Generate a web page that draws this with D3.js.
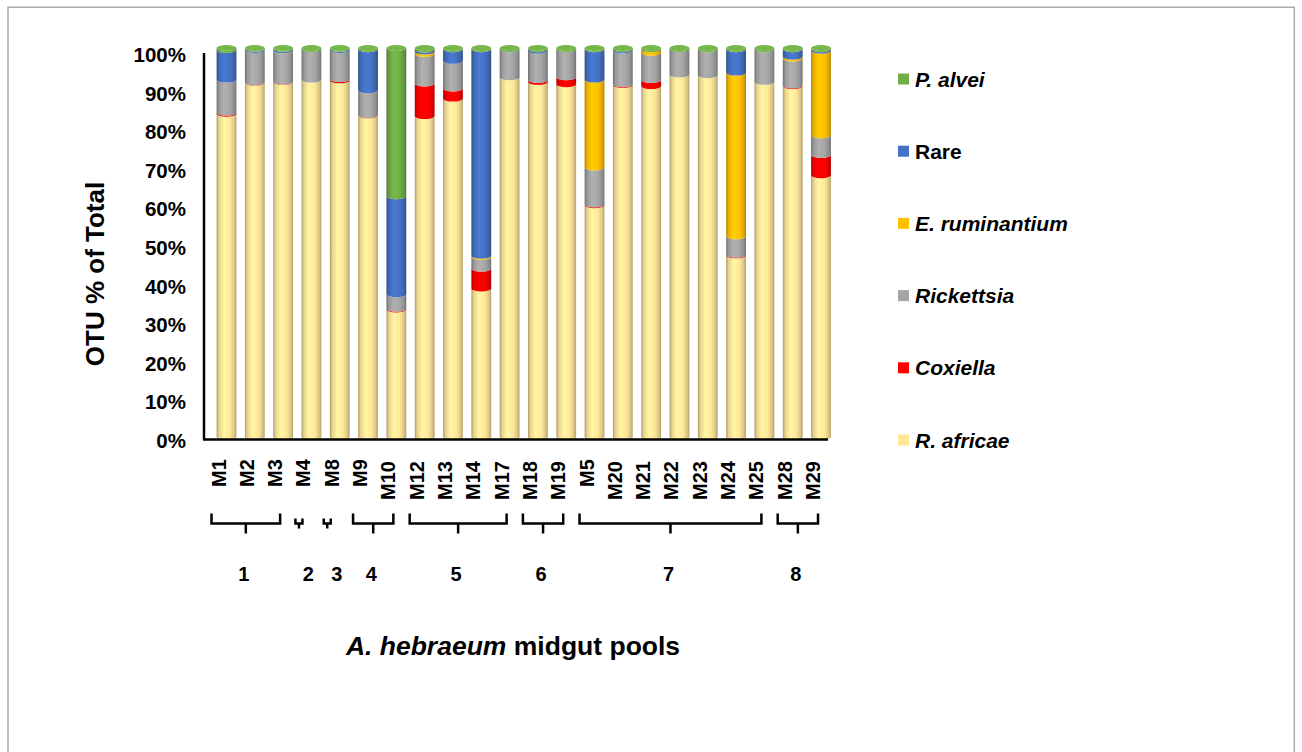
<!DOCTYPE html>
<html>
<head>
<meta charset="utf-8">
<script src="https://cdn.jsdelivr.net/npm/d3@7"></script>
<style>
  body { margin: 0; background: #fff; }
  svg { display: block; font-family: "Liberation Sans", Arial, sans-serif; }
</style>
</head>
<body>
<script>
// midgut pools, left to right
var categories = ["M1","M2","M3","M4","M8","M9","M10","M12","M13","M14","M17","M18","M19","M5","M20","M21","M22","M23","M24","M25","M28","M29"];

// OTU % of total, per series
var rAfricae     = [83.1, 91.1, 91.3, 91.9, 91.7, 82.7, 32.8, 82.5, 87.0, 38.2, 92.5, 91.3, 90.7, 59.6, 90.5, 90.2, 93.2, 93.0, 46.7, 91.3, 90.2, 67.3];
var coxiella     = [0.3, 0.1, 0.1, 0, 0.3, 0.1, 0.2, 8.4, 2.6, 5.1, 0, 0.5, 1.8, 0.2, 0.2, 1.6, 0, 0, 0.2, 0, 0.2, 5.2];
var rickettsia   = [8.5, 8.3, 7.9, 7.8, 7.5, 6.4, 3.7, 7.6, 7.1, 3.0, 7.2, 7.5, 7.2, 9.5, 8.7, 7.0, 6.5, 6.7, 4.7, 8.4, 6.9, 5.1];
var eRuminantium = [0, 0, 0.1, 0, 0, 0, 0, 0.6, 0, 0.3, 0, 0, 0, 22.6, 0, 0.9, 0, 0, 42.1, 0, 0.5, 21.7];
var rare         = [7.6, 0.3, 0.4, 0, 0.3, 10.5, 25.2, 0.5, 3.0, 53.1, 0, 0.4, 0, 7.8, 0.3, 0, 0, 0, 6.0, 0, 1.9, 0.4];
var pAlvei       = [0.5, 0.2, 0.2, 0.3, 0.2, 0.3, 38.1, 0.4, 0.3, 0.3, 0.3, 0.3, 0.3, 0.3, 0.3, 0.3, 0.3, 0.3, 0.3, 0.3, 0.3, 0.3];

// series, bottom to top of stack
var seriesKeys   = ["R. africae", "Coxiella", "Rickettsia", "E. ruminantium", "Rare", "P. alvei"];
var seriesValues = [rAfricae, coxiella, rickettsia, eRuminantium, rare, pAlvei];
var seriesColors = ["#FFE699", "#FF0000", "#A5A5A5", "#FFC000", "#4472C4", "#70AD47"];
var seriesItalic = [true, true, true, true, false, true];

var yTicks = [0, 10, 20, 30, 40, 50, 60, 70, 80, 90, 100];

// pool groups under the axis
var groupNames = ["1", "2", "3", "4", "5", "6", "7", "8"];
var groupFirst = ["M1", "M4", "M8", "M9", "M12", "M18", "M5", "M28"];
var groupLast  = ["M3", "M4", "M8", "M10", "M17", "M19", "M25", "M29"];

var W = 1302, H = 752;

var table = categories.map(function(c, i){
	var row = {pool: c};
	seriesKeys.forEach(function(k, j){ row[k] = seriesValues[j][i]; });
	return row;
});
var stacked = d3.stack().keys(seriesKeys)(table);

var svg = d3.select("body").append("svg")
	.attr("width", W)
	.attr("height", H);

svg.append("rect")//frame
	.attr("x", 8).attr("y", 7.25)
	.attr("width", 1286.3).attr("height", 800)
	.attr("fill", "none")
	.attr("stroke", "#ABABAB")
	.attr("stroke-width", 1.5);

var x = d3.scaleBand().domain(categories)
	.range([212.35, 835.17])
	.paddingInner(0.3).paddingOuter(0.15);
var y = d3.scaleLinear().domain([0, 100]).range([437, 48]);      // bars
var yLab = d3.scaleLinear().domain([0, 100]).range([441, 55]);   // tick labels sit a bit lower
var bw = x.bandwidth(), rx = bw / 2, ry = 3;

// cylinder shading
var defs = svg.append("defs");
seriesColors.forEach(function(c, j){
	var g = defs.append("linearGradient").attr("id", "cyl" + j)
		.attr("x1", 0).attr("x2", 1).attr("y1", 0).attr("y2", 0);
	var base = d3.color(c);
	[[0, base.darker(1.1)], [0.12, base.darker(0.25)], [0.38, base.brighter(0.2)],
	 [0.68, base], [0.88, base.darker(0.4)], [1, base.darker(1.0)]].forEach(function(s){
		g.append("stop").attr("offset", s[0]).attr("stop-color", s[1].formatHex());
	});
});

function segPath(x0, yt, yb){
	var x1 = x0 + bw;
	return "M" + x0 + "," + yt +
		"A" + rx + "," + ry + " 0 0 0 " + x1 + "," + yt +
		"L" + x1 + "," + yb +
		"A" + rx + "," + ry + " 0 0 1 " + x0 + "," + yb + "Z";
}

stacked.forEach(function(layer, j){
	svg.append("g").attr("class", "series")
		.selectAll("path")
		.data(layer.filter(function(d){ return d[1] - d[0] > 0; }))
		.join("path")
		.attr("d", function(d){ return segPath(x(d.data.pool), y(d[1]), y(d[0])); })
		.attr("fill", "url(#cyl" + j + ")");
});

// top caps, coloured by the topmost non-empty series
svg.append("g").selectAll("ellipse")
	.data(table)
	.join("ellipse")
	.attr("cx", function(d){ return x(d.pool) + rx; })
	.attr("cy", function(d){ return y(d3.sum(seriesKeys, function(k){ return d[k]; })); })
	.attr("rx", rx).attr("ry", ry)
	.attr("fill", function(d){
		var j = seriesKeys.length - 1;
		while (j > 0 && !(d[seriesKeys[j]] > 0)) j--;
		return d3.color(seriesColors[j]).brighter(0.15).formatHex();
	});

// axes
var yAxis = svg.append("g")
	.attr("transform", "translate(204,0)")
	.call(d3.axisLeft(yLab).tickValues(yTicks).tickSize(0).tickPadding(18)
		.tickFormat(function(d){ return d + "%"; }));
yAxis.select(".domain").remove();
yAxis.selectAll("text")
	.attr("font-size", 20.5).attr("font-weight", "bold")
	.attr("font-family", "Liberation Sans, Arial, sans-serif")
	.attr("fill", "#000");

svg.append("line")//y axis line
	.attr("x1", 204).attr("x2", 204)
	.attr("y1", yLab(100) - 2).attr("y2", y(0) + 2.5)
	.attr("stroke", "#000").attr("stroke-width", 2.5);
svg.append("line")//x axis line
	.attr("x1", 203).attr("x2", 828)
	.attr("y1", y(0) + 2.5).attr("y2", y(0) + 2.5)
	.attr("stroke", "#000").attr("stroke-width", 2.5);

// pool labels, rotated
svg.append("g").selectAll("text")
	.data(categories)
	.join("text")
	.attr("transform", function(d){
		var yb = d.length > 2 ? 500 : 487;
		return "translate(" + (x(d) + rx - 8) + "," + yb + ") rotate(-90)";
	})
	.attr("dominant-baseline", "central")
	.attr("font-size", 20).attr("font-weight", "bold")
	.text(function(d){ return d; });

// group brackets
var brackets = svg.append("g").attr("stroke", "#000").attr("stroke-width", 2.5).attr("fill", "none");
var by = 523.5;
groupNames.forEach(function(name, i){
	var c0 = x(groupFirst[i]) + rx, c1 = x(groupLast[i]) + rx;
	var l, r, h, lx;
	if (groupFirst[i] === groupLast[i]) { l = c0 - 16; r = c0 - 9; h = 5; lx = c0 - 3; }
	else { l = c0 - 15; r = c1 - 3; h = 10; lx = (l + r) / 2 - 2; }
	var m = (l + r) / 2;
	brackets.append("path")
		.attr("d", "M" + l + "," + (by - h) + "V" + by + "H" + r + "V" + (by - h) +
			"M" + m + "," + by + "V" + (by + h));
	svg.append("text")
		.attr("x", lx).attr("y", 581)
		.attr("text-anchor", "middle")
		.attr("font-size", 20).attr("font-weight", "bold")
		.text(name);
});

// axis titles
svg.append("text")
	.attr("transform", "translate(104,274) rotate(-90)")
	.attr("text-anchor", "middle")
	.attr("font-size", 26).attr("font-weight", "bold")
	.text("OTU % of Total");

var xt = svg.append("text")
	.attr("x", 513).attr("y", 655)
	.attr("text-anchor", "middle")
	.attr("font-size", 26.5).attr("font-weight", "bold");
xt.append("tspan").attr("font-style", "italic").text("A. hebraeum");
xt.append("tspan").text(" midgut pools");

// legend, top of stack first
var legend = svg.append("g");
seriesKeys.slice().reverse().forEach(function(k, i){
	var j = seriesKeys.length - 1 - i;
	var ly = 79 + i * 72.2;
	legend.append("rect")
		.attr("x", 898).attr("y", ly - 5.5)
		.attr("width", 11).attr("height", 11)
		.attr("fill", seriesColors[j]);
	legend.append("text")
		.attr("x", 915).attr("y", ly)
		.attr("dominant-baseline", "central")
		.attr("font-size", 21).attr("font-weight", "bold")
		.attr("font-style", seriesItalic[j] ? "italic" : "normal")
		.text(k);
});
</script>
</body>
</html>
